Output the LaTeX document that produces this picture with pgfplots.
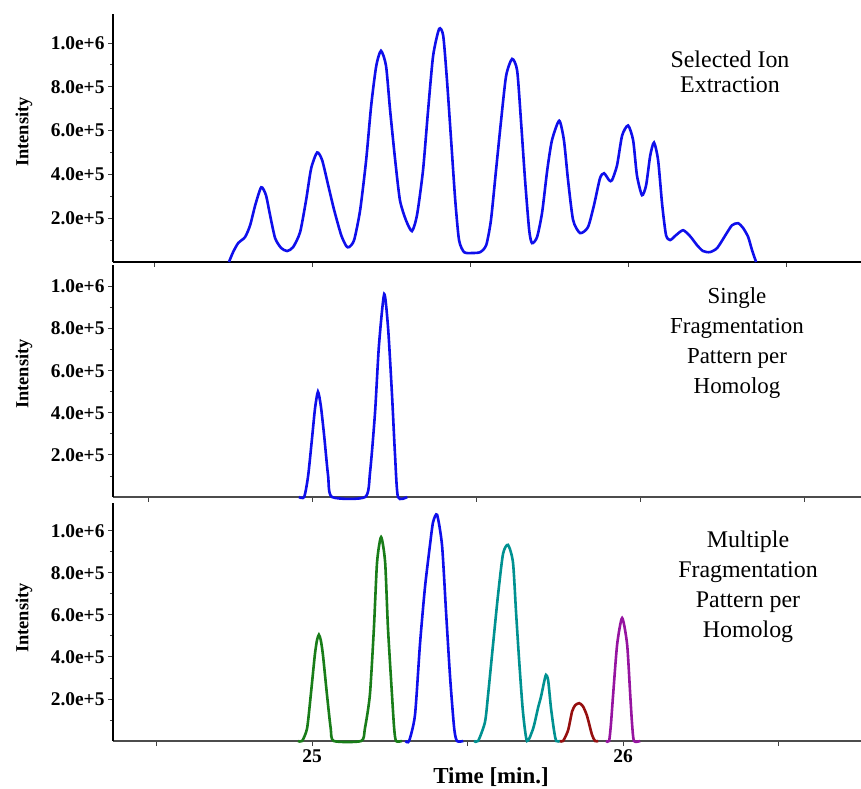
\documentclass[border=0pt]{standalone}
\usepackage{pgfplots}
\pgfplotsset{compat=1.18}
\usepackage{fontspec}
\setmainfont{Liberation Serif}

\definecolor{cblue}{RGB}{15,15,235}
\definecolor{cgreen}{RGB}{25,125,25}
\definecolor{cteal}{RGB}{0,145,145}
\definecolor{cred}{RGB}{150,15,15}
\definecolor{cpurple}{RGB}{150,20,160}

\pgfplotsset{
  panel/.style={
    scale only axis, width=748bp, anchor=south west,
    axis x line=bottom, axis y line=left, axis line style={-},
    ymin=0, scaled y ticks=false, clip=false,
    xtick={24.5,25,25.5,26,26.5},
    ytick={2e5,4e5,6e5,8e5,1e6},
    minor ytick={1e5,3e5,5e5,7e5,9e5},
    yticklabels={2.0e+5,4.0e+5,6.0e+5,8.0e+5,1.0e+6},
    tick align=outside,
    major tick length=5bp, minor tick length=3bp,
    y axis line style={line width=2.4bp, black},
    x axis line style={line width=1.6bp, black!70},
    tick style={black!75, line width=0.8bp},
    ticklabel style={font=\bfseries\fontsize{19.5}{20}\selectfont},
  },
  trace/.style={line width=2.6bp, smooth, tension=0.4},
}

\begin{document}
\begin{tikzpicture}

% top: selected ion extraction
\begin{axis}[panel, at={(113bp,527bp)}, height=248bp,
  xmin=24.370, xmax=26.737, ymax=1.132e6, xticklabels={},
  x axis line style={line width=1.6bp, black}]
\addplot[trace, cblue] coordinates {
(24.737,0) (24.750,0.45e5) (24.766,0.86e5) (24.788,1.14e5) (24.804,1.68e5)
(24.820,2.59e5) (24.839,3.41e5) (24.854,3.05e5) (24.867,2.14e5) (24.883,1.09e5)
(24.902,0.64e5) (24.921,0.50e5) (24.940,0.68e5) (24.962,1.36e5) (24.981,2.82e5)
(24.997,4.27e5) (25.016,5.00e5) (25.032,4.64e5) (25.051,3.50e5) (25.070,2.36e5)
(25.092,1.23e5) (25.108,0.73e5) (25.117,0.68e5) (25.133,1.00e5) (25.152,2.36e5)
(25.171,4.64e5) (25.187,7.14e5) (25.203,8.95e5) (25.218,9.64e5) (25.234,8.95e5)
(25.247,6.91e5) (25.263,4.64e5) (25.278,2.82e5) (25.297,1.91e5) (25.316,1.41e5)
(25.332,2.14e5) (25.351,4.18e5) (25.367,6.91e5) (25.383,9.41e5) (25.402,10.64e5)
(25.415,10.32e5) (25.427,8.27e5) (25.440,5.55e5) (25.453,2.82e5) (25.465,1.00e5)
(25.481,0.45e5) (25.506,0.41e5) (25.532,0.45e5) (25.551,0.77e5) (25.566,1.91e5)
(25.582,4.18e5) (25.598,6.45e5) (25.614,8.50e5) (25.633,9.27e5) (25.649,8.73e5)
(25.661,6.45e5) (25.674,3.73e5) (25.687,1.45e5) (25.696,0.86e5) (25.712,1.14e5)
(25.728,2.27e5) (25.744,4.18e5) (25.759,5.55e5) (25.782,6.45e5) (25.797,5.55e5)
(25.810,3.73e5) (25.826,1.91e5) (25.848,1.32e5) (25.873,1.59e5) (25.892,2.59e5)
(25.911,3.82e5) (25.924,4.05e5) (25.940,3.73e5) (25.949,3.73e5) (25.965,4.41e5)
(25.981,5.77e5) (26.000,6.23e5) (26.016,5.55e5) (26.028,3.95e5) (26.044,3.05e5)
(26.057,3.50e5) (26.070,4.86e5) (26.082,5.45e5) (26.095,4.64e5) (26.108,2.59e5)
(26.120,1.23e5) (26.133,1.00e5) (26.152,1.23e5) (26.174,1.45e5) (26.196,1.18e5)
(26.218,0.77e5) (26.237,0.50e5) (26.259,0.45e5) (26.282,0.64e5) (26.310,1.27e5)
(26.329,1.68e5) (26.348,1.77e5) (26.364,1.55e5) (26.380,1.14e5) (26.392,0.55e5)
(26.405,0)
};
\end{axis}

% middle: single fragmentation pattern
\begin{axis}[panel, at={(113bp,292bp)}, height=232bp,
  xmin=24.393, xmax=26.674, ymax=1.102e6, xticklabels={}]
\addplot[trace, cblue] coordinates {
(24.960,0) (24.976,0) (24.988,1.0e5) (25.000,2.8e5) (25.009,4.2e5) (25.018,5.0e5)
(25.027,4.3e5) (25.037,2.9e5) (25.049,1.0e5) (25.061,0) (25.162,0) (25.177,1.2e5)
(25.192,4.0e5) (25.204,7.2e5) (25.220,9.64e5) (25.232,8.0e5) (25.244,4.8e5)
(25.253,2.0e5) (25.262,0) (25.290,0)
};
\end{axis}

% bottom: multiple fragmentation patterns
\begin{axis}[panel, at={(113bp,48bp)}, height=238bp,
  xmin=24.360, xmax=26.765, ymax=1.132e6, xticklabels={,25,,26,}]
\addplot[trace, cgreen] coordinates {
(24.955,0) (24.968,0) (24.984,0.6e5) (24.996,2.2e5) (25.009,4.1e5) (25.016,4.8e5)
(25.022,5.05e5) (25.028,4.8e5) (25.035,4.1e5) (25.048,2.2e5) (25.060,0.6e5)
(25.070,0) (25.158,0) (25.170,0.6e5) (25.186,2.2e5) (25.199,5.4e5) (25.209,8.5e5)
(25.222,9.7e5) (25.235,8.5e5) (25.244,5.4e5) (25.257,2.2e5) (25.264,0.6e5)
(25.270,0) (25.289,0)
};
\addplot[trace, cblue] coordinates {
(25.300,0) (25.312,0) (25.331,1.24e5) (25.347,4.6e5) (25.363,7.3e5) (25.379,9.3e5)
(25.389,10.4e5) (25.402,10.76e5) (25.418,9.3e5) (25.431,6.1e5) (25.444,3.0e5)
(25.457,0.6e5) (25.466,0) (25.486,0)
};
\addplot[trace, cteal] coordinates {
(25.521,0) (25.534,0) (25.556,0.9e5) (25.566,2.2e5) (25.582,4.6e5) (25.598,6.95e5)
(25.614,8.9e5) (25.630,9.33e5) (25.646,8.5e5) (25.656,6.1e5) (25.666,3.8e5)
(25.678,1.4e5) (25.691,0) (25.711,0.6e5) (25.727,1.6e5) (25.736,2.1e5)
(25.746,2.8e5) (25.752,3.14e5) (25.759,2.9e5) (25.768,1.6e5) (25.778,0.5e5)
(25.785,0) (25.797,0)
};
\addplot[trace, cred] coordinates {
(25.797,0) (25.807,0) (25.823,0.5e5) (25.836,1.4e5) (25.846,1.7e5) (25.859,1.8e5)
(25.871,1.65e5) (25.884,1.2e5) (25.900,0.3e5) (25.910,0) (25.920,0)
};
\addplot[trace, cpurple] coordinates {
(25.945,0) (25.955,0) (25.961,0.8e5) (25.968,2.2e5) (25.981,4.6e5) (25.997,5.85e5)
(26.013,4.6e5) (26.023,2.2e5) (26.029,0.8e5) (26.035,0) (26.055,0)
};
\end{axis}

% labels
\node[rotate=90, font=\bfseries\fontsize{18.5}{20}\selectfont] at (24bp,657bp) {Intensity};
\node[rotate=90, font=\bfseries\fontsize{18.5}{20}\selectfont] at (24bp,415bp) {Intensity};
\node[rotate=90, font=\bfseries\fontsize{18.5}{20}\selectfont] at (24bp,171bp) {Intensity};
\node[anchor=base, font=\bfseries\fontsize{23}{25}\selectfont] at (491bp,6bp) {Time [min.]};

\node[align=center, font=\fontsize{24}{25}\selectfont] at (730bp,717bp) {Selected Ion\\ Extraction};
\node[align=center, font=\fontsize{23}{30}\selectfont] at (737bp,446bp) {Single\\Fragmentation\\Pattern per\\Homolog};
\node[align=center, font=\fontsize{24}{30}\selectfont] at (748bp,202bp) {Multiple\\Fragmentation\\Pattern per\\Homolog};

\pgfresetboundingbox
\useasboundingbox (0,0) rectangle (861bp,789bp);
\end{tikzpicture}
\end{document}
